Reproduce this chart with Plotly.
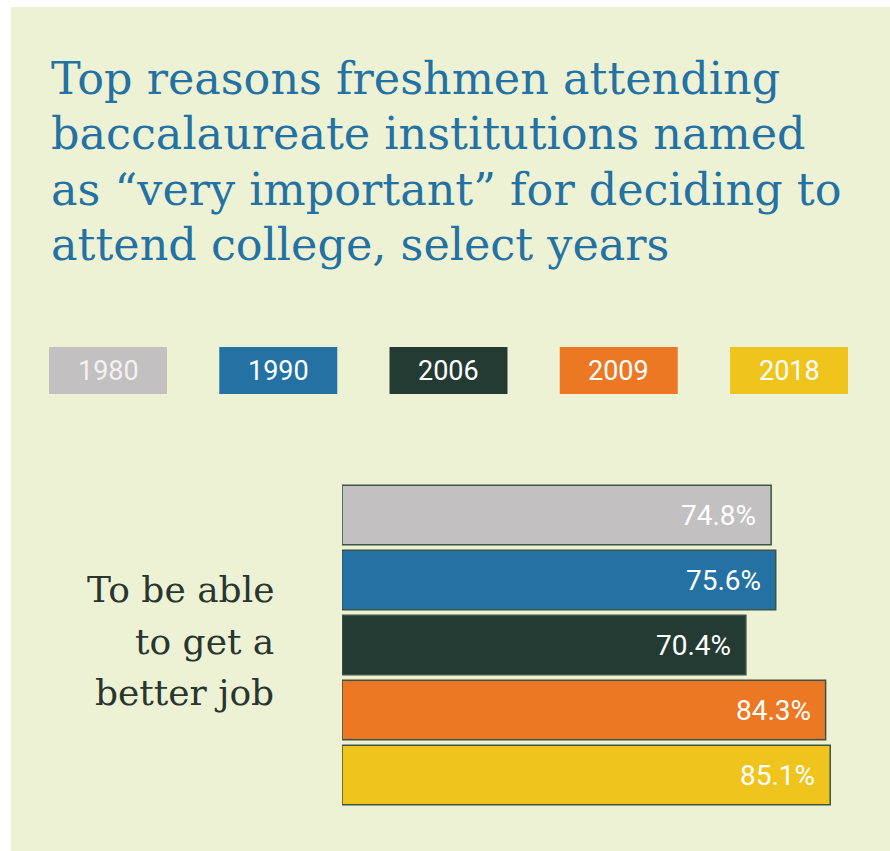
import plotly.graph_objects as go

# ---- data ----
years = ["1980", "1990", "2006", "2009", "2018"]
values = [74.8, 75.6, 70.4, 84.3, 85.1]
colors = ["#C2C0C1", "#2472A4", "#243B34", "#EC7823", "#EFC41C"]
category_label = "To be able<br>to get a<br>better job"
title_lines = [
    "Top reasons freshmen attending",
    "baccalaureate institutions named",
    "as \u201cvery important\u201d for deciding to",
    "attend college, select years",
]

W, H = 890, 851
ML, MR, MT, MB = 342, 20, 440, 1
PW, PH = W - ML - MR, H - MT - MB
BG = "#EEF2D5"
SERIF = "DejaVu Serif, serif"


def xp(px):
    return (px - ML) / PW


def yp(py):
    return (H - MB - py) / PH


px_per_unit = 5.737
pitch = 65.0
half = PH / pitch / 2
mid = (len(years) - 1) / 2

fig = go.Figure()
fig.add_trace(go.Bar(
    x=values, y=years, orientation="h",
    marker=dict(color=colors, line=dict(color="#3D5446", width=1.5)),
    width=0.915, showlegend=False, hoverinfo="x+y",
))

annotations = []
# value labels (category axis: annotation positions are category indices)
for i, v in enumerate(values):
    annotations.append(dict(
        x=v, y=i, xref="x", yref="y", text=f"{v:.1f}%", showarrow=False,
        xanchor="right", yanchor="middle", xshift=-13,
        font=dict(family="Roboto", size=28, color="#FFFFFF"),
    ))
# category label, one annotation per line to keep the line spacing
label_lines = category_label.split("<br>")
for j, line in enumerate(label_lines):
    annotations.append(dict(
        x=xp(276), y=mid, xref="paper", yref="y", text=line,
        showarrow=False, xanchor="right", yanchor="middle", align="right",
        yshift=(1 - j) * 51.5 + 4,
        font=dict(family=SERIF, size=36, color="#29362F"),
    ))
# title lines
for i, line in enumerate(title_lines):
    annotations.append(dict(
        x=xp(49), y=yp(94 + i * 55.6 - 16), xref="paper", yref="paper", text=line,
        showarrow=False, xanchor="left", yanchor="middle",
        font=dict(family=SERIF, size=44.5, color="#2472A4"),
    ))

shapes = [
    dict(type="rect", xref="paper", yref="paper", x0=xp(-5), x1=xp(11), y0=yp(H + 5), y1=yp(-5),
         fillcolor="#FFFFFF", line=dict(width=0), layer="below"),
    dict(type="rect", xref="paper", yref="paper", x0=xp(-5), x1=xp(W + 5), y0=yp(7), y1=yp(-5),
         fillcolor="#FFFFFF", line=dict(width=0), layer="below"),
]
# legend boxes
for i, (yr, c) in enumerate(zip(years, colors)):
    x0 = 49 + i * 170.25
    shapes.append(dict(type="rect", xref="paper", yref="paper", x0=xp(x0), x1=xp(x0 + 118),
                       y0=yp(394), y1=yp(347), fillcolor=c, line=dict(width=0)))
    annotations.append(dict(
        x=xp(x0 + 59), y=yp(370.5), xref="paper", yref="paper", text=yr, showarrow=False,
        xanchor="center", yanchor="middle",
        font=dict(family="Roboto", size=27, color="#FFFFFF" if i else "#F4F1F1"),
    ))

fig.update_layout(
    width=W, height=H,
    margin=dict(l=ML, r=MR, t=MT, b=MB, pad=0),
    paper_bgcolor=BG, plot_bgcolor=BG,
    xaxis=dict(range=[0, PW / px_per_unit], visible=False, fixedrange=True),
    yaxis=dict(range=[mid + half, mid - half], visible=False, type="category", fixedrange=True),
    shapes=shapes, annotations=annotations,
)

fig.write_html("out.html")
